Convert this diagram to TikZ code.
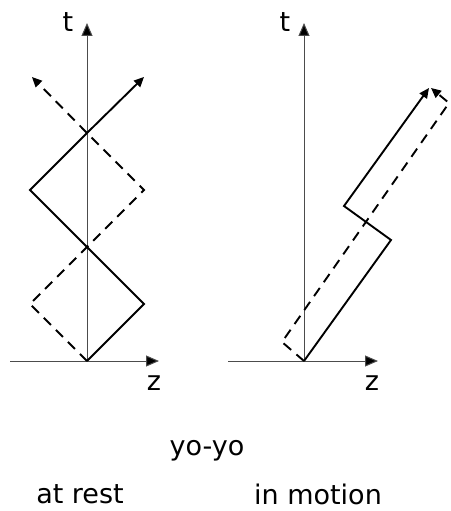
\documentclass[tikz,border=0pt]{standalone}
\usepackage{fontspec}
\setmainfont{DejaVu Sans}
\usetikzlibrary{arrows.meta}
\tikzset{
  axis/.style={-{Triangle[length=13pt,width=11pt,fill=black]}, draw=black!70, line width=1pt},
  path/.style={draw=black, line width=1.9pt, line join=miter},
  ray/.style={path, -{Triangle[length=10pt,width=9pt]}},
  back/.style={ray, dashed, dash pattern=on 10pt off 7pt},
  lab/.style={font=\fontsize{27}{30}\selectfont, inner sep=0pt},
}
\begin{document}
\begin{tikzpicture}[x=1pt,y=-1pt]
\useasboundingbox (0,0) rectangle (450,511);
% at rest
\coordinate (o1) at (87,361);
\coordinate (t1) at (87,23);
\coordinate (z1) at (159,361);
\coordinate (a1) at (144,304);
\coordinate (a2) at (87,247);
\coordinate (a3) at (30,190);
\coordinate (a4) at (87,133);
\coordinate (a5) at (144,77);
\coordinate (b1) at (30,304);
\coordinate (b3) at (144,190);
\coordinate (b5) at (32,77);
\draw[axis] (10,361) -- (z1);
\draw[axis] (o1) -- (t1);
\node[lab] (tl1) at (68,22) {t};
\node[lab] (zl1) at (154,383) {z};
\draw[ray] (o1) -- (a1) -- (a2) -- (a3) -- (a4) -- (a5);
\draw[back] (o1) -- (b1) -- (a2) -- (b3) -- (a4) -- (b5);
% in motion
\coordinate (o2) at (304,361);
\coordinate (t2) at (304,23);
\coordinate (z2) at (378,361);
\coordinate (c1) at (391,240);
\coordinate (c2) at (344,206);
\coordinate (c3) at (429,88);
\coordinate (d1) at (282,342);
\coordinate (d2) at (449,103);
\coordinate (d3) at (431,88);
\draw[axis] (228,361) -- (z2);
\draw[axis] (o2) -- (t2);
\node[lab] (tl2) at (285,22) {t};
\node[lab] (zl2) at (372,383) {z};
\draw[ray] (o2) -- (c1) -- (c2) -- (c3);
\draw[back] (o2) -- (d1) -- (d2) -- (d3);
% captions
\node[lab] (yo) at (207,451) {yo-yo};
\node[lab] (rest) at (80,494) {at rest};
\node[lab] (motion) at (318,494) {in motion};
\end{tikzpicture}
\end{document}
